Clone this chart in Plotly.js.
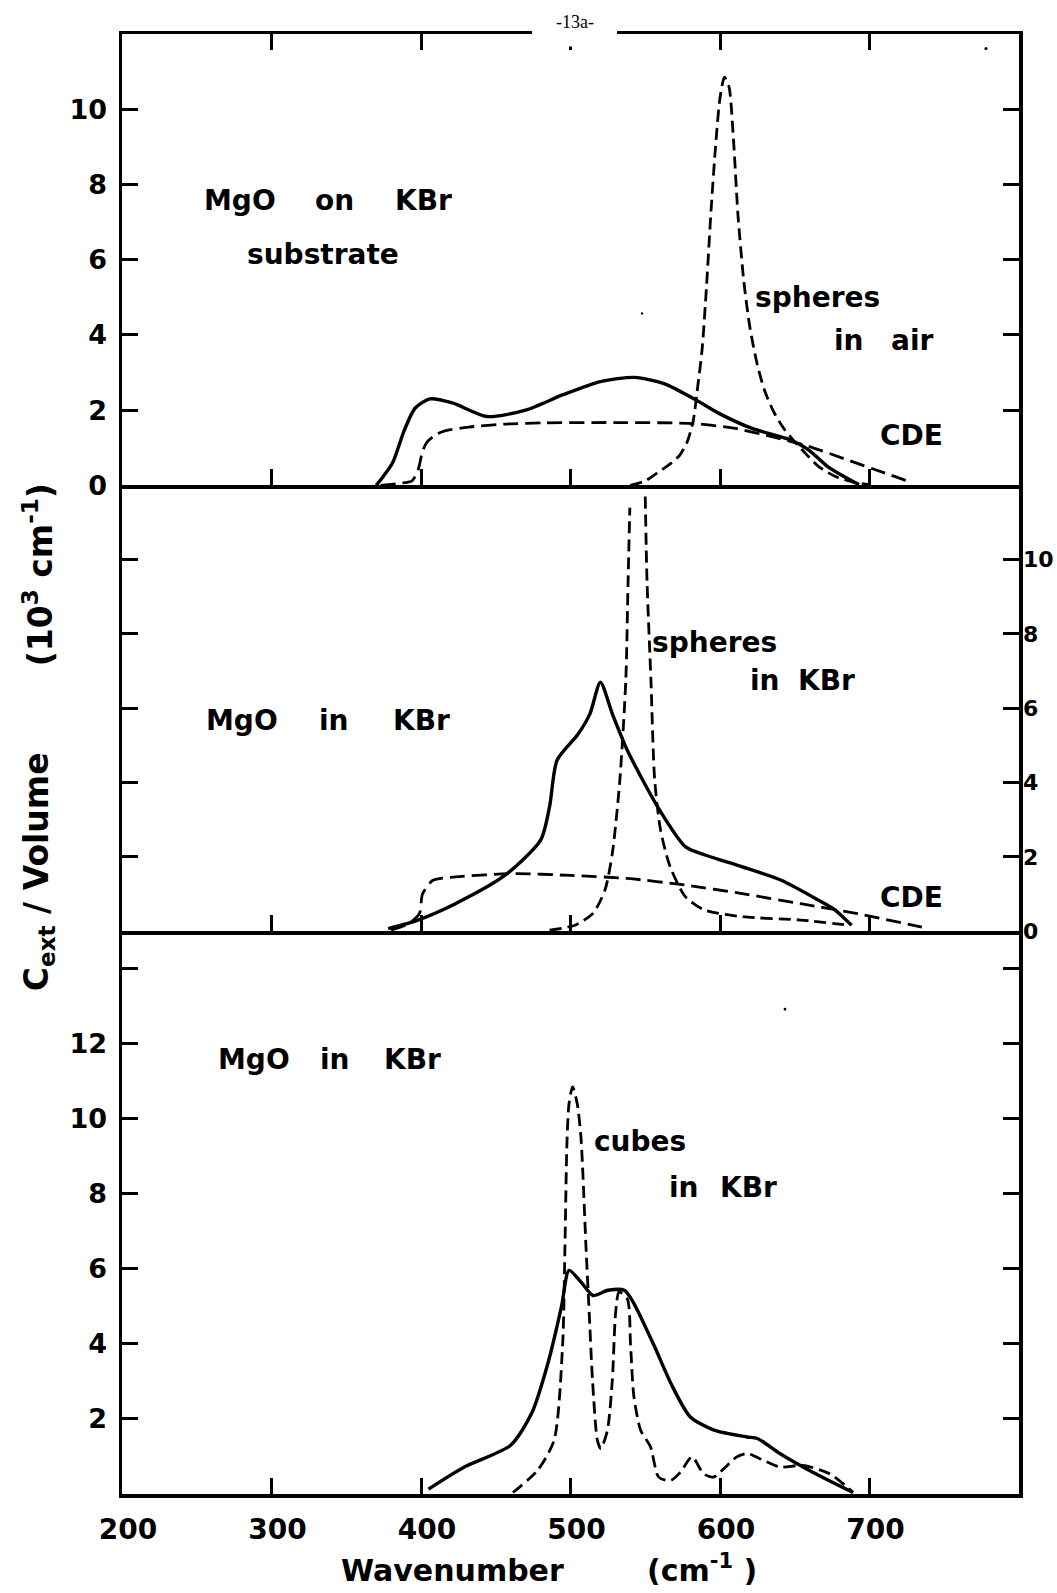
<!DOCTYPE html>
<html><head><meta charset="utf-8">
<script src="https://cdn.plot.ly/plotly-3.0.1.min.js"></script>
<style>html,body{margin:0;padding:0;background:#fff;}#chart{width:1057px;height:1593px;}</style>
</head><body><div id="chart"></div>
<script>
// ---------- data (wavenumber in cm^-1, Cext/Volume in 10^3 cm^-1) ----------
// top panel: MgO on KBr substrate
const topSolidW = [370, 375, 381, 389, 396, 406, 421, 444, 470, 495, 520, 543, 563, 584, 599, 621, 647, 659, 672, 685, 693];
const topSolidV = [0, 0.25, 0.6, 1.48, 2.05, 2.30, 2.19, 1.83, 2.0, 2.41, 2.76, 2.87, 2.70, 2.27, 1.92, 1.52, 1.21, 0.95, 0.50, 0.19, 0.02];
const topCdeW = [373, 385, 394, 398, 401, 404, 410, 416, 432, 457, 482, 530, 583, 609, 634, 659, 685, 710, 728];
const topCdeV = [0, 0.05, 0.12, 0.4, 0.9, 1.15, 1.35, 1.45, 1.55, 1.63, 1.66, 1.67, 1.64, 1.52, 1.30, 1.04, 0.68, 0.33, 0.08];
const topSphereW = [540, 550, 558, 566, 573, 578, 582, 585, 588, 591, 594, 597, 600, 603, 606, 609, 612, 616, 620, 625, 630, 636, 642, 648, 656, 666, 678, 690, 700];
const topSphereV = [0, 0.12, 0.33, 0.55, 0.8, 1.15, 1.7, 2.6, 3.6, 5.3, 7.3, 9.0, 10.3, 10.85, 10.6, 9.2, 7.2, 5.4, 4.2, 3.2, 2.5, 1.95, 1.55, 1.25, 0.9, 0.5, 0.22, 0.08, 0.02];

// middle panel: MgO in KBr
const midSolidW = [378, 398, 423, 456, 480, 486, 491, 505, 513, 520, 528, 538, 559, 577, 590, 615, 641, 666, 677, 688];
const midSolidV = [0.07, 0.3, 0.74, 1.5, 2.45, 3.35, 4.6, 5.3, 5.85, 6.7, 5.85, 4.87, 3.3, 2.27, 2.05, 1.73, 1.37, 0.83, 0.57, 0.16];
const midCdeW = [380, 392, 399, 401, 408, 423, 462, 500, 538, 577, 615, 654, 692, 735];
const midCdeV = [0.03, 0.21, 0.48, 1.0, 1.37, 1.46, 1.55, 1.5, 1.42, 1.24, 1.01, 0.74, 0.47, 0.11];
// spheres in KBr: drawn as two branches (peak runs off the drawing)
const midSphereW = [486, 503, 515, 523, 528, 533, 537, 538.5, 539.7, null, 550, 551.2, 553.8, 556.3, 560.2, 566.6, 576.8, 589.6, 615, 654, 687];
const midSphereV = [0.03, 0.16, 0.48, 1.1, 2.1, 4.07, 6.76, 9.4, 11.4, null, 11.7, 9.4, 6.76, 4.07, 2.73, 1.74, 0.93, 0.57, 0.39, 0.30, 0.16];

// bottom panel: MgO in KBr, cubes
const botSolidW = [405, 429, 460, 474, 485, 494, 499, 507, 515, 525, 536, 542, 556, 567, 580, 596, 618, 625, 640, 662, 689];
const botSolidV = [0.13, 0.72, 1.30, 2.15, 3.5, 5.0, 5.96, 5.65, 5.29, 5.43, 5.43, 5.11, 3.95, 2.96, 2.06, 1.70, 1.52, 1.48, 1.08, 0.58, 0.04];
const botCubeW = [461.5, 478, 489, 494.7, 496.3, 497.6, 499, 501.4, 504.5, 507, 510.3, 512.5, 514.7, 518, 520.3, 524.7, 528, 530.2, 532.5, 538, 540.2, 542.4, 546.9, 553.5, 559, 567, 573.5, 581.3, 589, 595.7, 602.4, 611.2, 618, 629, 640, 655.5, 673.3, 689];
const botCubeV = [0.04, 0.63, 1.43, 3.95, 6.64, 9.33, 10.4, 10.85, 10.4, 9.5, 6.64, 4.84, 3.05, 1.43, 1.21, 1.70, 3.05, 4.84, 5.38, 5.2, 3.95, 2.6, 1.70, 1.26, 0.45, 0.36, 0.58, 0.99, 0.54, 0.45, 0.67, 0.99, 1.08, 0.90, 0.72, 0.76, 0.54, 0.04];

// ticks
const xTickVals = [200, 300, 400, 500, 600, 700];
const xInnerTicks = [300, 400, 500, 600, 700];
const topYTicks = [0, 2, 4, 6, 8, 10];
const midYTicks = [0, 2, 4, 6, 8, 10];
const botYTicks = [2, 4, 6, 8, 10, 12, 14];
const botYLabels = ['2', '4', '6', '8', '10', '12', ''];

// ---------- layout helpers ----------
const L = 122, R = 1019, T = 33.5, B = 1494;
const px = x => (x - L) / (R - L);
const py = y => (B - y) / (B - T);
const FONT = 'DejaVu Sans, Liberation Sans, sans-serif';

function line(x, y, xa, ya, dash, width) {
  return {type: 'scatter', mode: 'lines', x: x, y: y, xaxis: xa, yaxis: ya,
    line: {color: '#000', width: width, dash: dash, shape: 'spline', smoothing: 0.7},
    hoverinfo: 'skip', showlegend: false, connectgaps: false};
}
const SOLID = 3.4, DASHW = 2.8;
const data = [
  line(topSolidW, topSolidV, 'x3', 'y3', 'solid', SOLID),
  line(topCdeW, topCdeV, 'x3', 'y3', '15px,7px', DASHW),
  line(topSphereW, topSphereV, 'x3', 'y3', '12px,6px', DASHW),
  line(midSolidW, midSolidV, 'x2', 'y2', 'solid', SOLID),
  line(midCdeW, midCdeV, 'x2', 'y2', '15px,7px', DASHW),
  line(midSphereW, midSphereV, 'x2', 'y2', '12px,6px', DASHW),
  line(botSolidW, botSolidV, 'x', 'y', 'solid', SOLID),
  line(botCubeW, botCubeV, 'x', 'y', '12px,6px', DASHW)
];

const tickFont = s => ({family: FONT, size: s, color: '#000', weight: 'bold'});
const axBase = {showgrid: false, zeroline: false, showline: true, linecolor: '#000', linewidth: 3.5,
  ticks: 'inside', ticklen: 16, tickwidth: 3, tickcolor: '#000',
  tickfont: tickFont(28), fixedrange: true};

const y1 = py(931), y2 = py(485);

function word(text, cx, cy, size, extra) {
  return Object.assign({text: text, xref: 'paper', yref: 'paper', x: px(cx), y: py(cy),
    xanchor: 'center', yanchor: 'middle', showarrow: false,
    font: {family: FONT, size: size || 28, color: '#000', weight: 'bold'}}, extra || {});
}

const annotations = [
  // top panel
  word('MgO', 240, 200), word('on', 334, 200), word('KBr', 423, 200),
  word('substrate', 323, 254),
  word('spheres', 817, 297), word('in', 849, 340), word('air', 912, 340),
  word('CDE', 911, 435),
  // middle panel
  word('MgO', 242, 720), word('in', 334, 720), word('KBr', 421, 720),
  word('spheres', 714, 642), word('in', 765, 680), word('KBr', 826, 680),
  word('CDE', 911, 897),
  // bottom panel
  word('MgO', 254, 1059), word('in', 335, 1059), word('KBr', 412, 1059),
  word('cubes', 640, 1141), word('in', 684, 1187), word('KBr', 748, 1187),
  // axis titles
  word('Wavenumber', 452, 1571, 30), word('(cm<sup>-1</sup> )', 702, 1569, 30),
  word('C<sub>ext</sub> / Volume', 38, 872, 33, {textangle: -90}),
  word('(10<sup>3</sup> cm<sup>-1</sup>)', 38, 575, 33, {textangle: -90}),
  // page number
  word('-13a-', 575, 21, 18, {font: {family: 'Liberation Serif, DejaVu Serif, serif', size: 18, color: '#000'}})
];

const dot = (cx, cy, r) => ({type: 'circle', xref: 'paper', yref: 'paper', layer: 'above',
  x0: px(cx - r), x1: px(cx + r), y0: py(cy + r), y1: py(cy - r), fillcolor: '#000', line: {width: 0}});

const shapes = [
  {type: 'rect', xref: 'paper', yref: 'paper', layer: 'above', x0: px(532), x1: px(617), y0: py(46), y1: py(26),
   fillcolor: '#fff', line: {width: 0}},
  dot(986, 48, 1.6), dot(642, 313, 1.2), dot(785, 1009, 1.4)
];

const layout = {
  width: 1057, height: 1593,
  margin: {l: L, r: 1057 - R, t: T, b: 1593 - B, pad: 0},
  paper_bgcolor: '#fff', plot_bgcolor: '#fff', showlegend: false,
  font: {family: FONT, color: '#000'},
  xaxis: Object.assign({}, axBase, {domain: [0, 1], anchor: 'y', range: [200, 800], tickmode: 'array',
    tickvals: xTickVals, ticktext: xTickVals.map(String), mirror: false, ticklabelstandoff: 8, ticklabelshift: 6}),
  yaxis: Object.assign({}, axBase, {domain: [0, y1], anchor: 'x', range: [0, 15], tickmode: 'array',
    tickvals: botYTicks, ticktext: botYLabels, mirror: 'ticks', ticklabelstandoff: 6, tickfont: tickFont(27)}),
  xaxis2: Object.assign({}, axBase, {domain: [0, 1], anchor: 'y2', range: [200, 800], tickmode: 'array',
    tickvals: xInnerTicks, showticklabels: false, mirror: false}),
  yaxis2: Object.assign({}, axBase, {domain: [y1, y2], anchor: 'x2', range: [0, 12], side: 'right', tickmode: 'array',
    tickvals: midYTicks, ticktext: midYTicks.map(String), mirror: 'ticks', ticklabelstandoff: -4, tickfont: tickFont(22)}),
  xaxis3: Object.assign({}, axBase, {domain: [0, 1], anchor: 'y3', range: [200, 800], tickmode: 'array',
    tickvals: xInnerTicks, showticklabels: false, mirror: 'ticks'}),
  yaxis3: Object.assign({}, axBase, {domain: [y2, 1], anchor: 'x3', range: [0, 12], tickmode: 'array',
    tickvals: topYTicks, ticktext: topYTicks.map(String), mirror: 'ticks', ticklabelstandoff: 6, tickfont: tickFont(27)}),
  annotations: annotations,
  shapes: shapes
};

Plotly.newPlot('chart', data, layout, {staticPlot: true, displayModeBar: false});
</script></body></html>
